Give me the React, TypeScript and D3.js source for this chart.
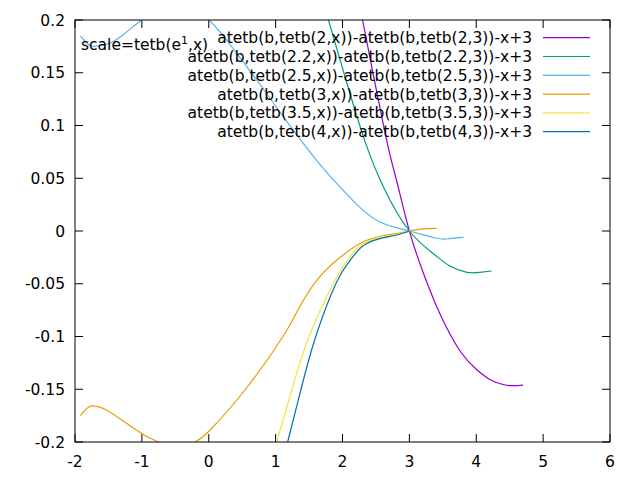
import React from 'react';
import * as d3 from 'd3';

const xTicks = [-2, -1, 0, 1, 2, 3, 4, 5, 6];
const yTicks = [-0.2, -0.15, -0.1, -0.05, 0, 0.05, 0.1, 0.15, 0.2];
const yTickLabels = ['-0.2', '-0.15', '-0.1', '-0.05', '0', '0.05', '0.1', '0.15', '0.2'];

const seriesLabels = [
  'atetb(b,tetb(2,x))-atetb(b,tetb(2,3))-x+3',
  'atetb(b,tetb(2.2,x))-atetb(b,tetb(2.2,3))-x+3',
  'atetb(b,tetb(2.5,x))-atetb(b,tetb(2.5,3))-x+3',
  'atetb(b,tetb(3,x))-atetb(b,tetb(3,3))-x+3',
  'atetb(b,tetb(3.5,x))-atetb(b,tetb(3.5,3))-x+3',
  'atetb(b,tetb(4,x))-atetb(b,tetb(4,3))-x+3',
];
const seriesColors = ['#9400d3', '#009e73', '#56b4e9', '#e69f00', '#f0e442', '#0072b2'];

const base2: [number, number][] = [
  [2.2, 0.232], [2.3, 0.2], [2.63, 0.095], [2.8, 0.05], [3.0, 0], [3.21, -0.04],
  [3.46, -0.079], [3.76, -0.114], [4.0, -0.131], [4.21, -0.141],
  [4.4, -0.1455], [4.55, -0.1466], [4.7, -0.146],
];
const base22: [number, number][] = [
  [1.7, 0.22], [1.79, 0.2], [2.06, 0.1415], [2.32, 0.088], [2.61, 0.042],
  [3.0, 0], [3.36, -0.0215], [3.6, -0.033], [3.86, -0.0392],
  [4.05, -0.0392], [4.23, -0.0379],
];
const base25: [number, number][] = [
  [-1.92, 0.185], [-1.78, 0.176], [-1.65, 0.1755], [-1.48, 0.178], [-1.28, 0.186],
  [-1.0, 0.2], [-0.5, 0.214], [0.0, 0.2], [0.4, 0.17], [0.8, 0.136], [1.2, 0.101],
  [1.6, 0.068], [1.9, 0.046], [2.2, 0.026], [2.56, 0.0085], [3.0, 0], [3.41, -0.0069],
  [3.6, -0.0072], [3.81, -0.006],
];
const base3: [number, number][] = [
  [-1.92, -0.175], [-1.8, -0.167], [-1.7, -0.1659], [-1.55, -0.169], [-1.23, -0.1823],
  [-0.95, -0.194], [-0.75, -0.2], [-0.5, -0.205], [-0.21, -0.2], [0.02, -0.1886],
  [0.55, -0.15], [1.11, -0.1], [1.35, -0.073], [1.6, -0.048], [1.85, -0.031],
  [2.11, -0.018], [2.35, -0.009], [2.6, -0.0045], [2.8, -0.0025], [3.0, 0],
  [3.2, 0.002], [3.41, 0.0025],
];
const base35: [number, number][] = [
  [0.98, -0.21], [1.016, -0.2], [1.245, -0.15], [1.5, -0.1], [1.86, -0.05],
  [2.05, -0.03], [2.25, -0.0145], [2.5, -0.0072], [2.75, -0.004], [3.0, 0],
];
const base4: [number, number][] = [
  [1.15, -0.21], [1.18, -0.2], [1.38, -0.15], [1.6, -0.1], [1.9, -0.05],
  [2.1, -0.029], [2.3, -0.0145], [2.56, -0.0072], [2.8, -0.004], [3.0, 0],
];
const seriesData = [base2, base22, base25, base3, base35, base4];

const W = 640;
const H = 480;
const L = 75, R = 610, T = 20, B = 442;
const FONT = 'DejaVu Sans, sans-serif';
const FS = 15.5;

export default function App() {
  const x = d3.scaleLinear().domain([-2, 6]).range([L, R]);
  const y = d3.scaleLinear().domain([-0.2, 0.2]).range([B, T]);
  const line = d3
    .line<[number, number]>()
    .x((d) => x(d[0]))
    .y((d) => y(d[1]))
    .curve(d3.curveNatural);
  const tl = 8;
  return (
    <svg
      width={W}
      height={H}
      style={{ position: 'absolute', left: 0, top: 0, background: '#fff' }}
      fontFamily={FONT}
      fontSize={FS}
    >
      <rect x={0} y={0} width={W} height={H} fill="#fff" />
      <defs>
        <clipPath id="plotclip">
          <rect x={L} y={T} width={R - L} height={B - T} />
        </clipPath>
      </defs>
      {xTicks.map((t) => (
        <g key={'xt' + t}>
          <line x1={x(t)} x2={x(t)} y1={B} y2={B - tl} stroke="#000" />
          <line x1={x(t)} x2={x(t)} y1={T} y2={T + tl} stroke="#000" />
          <text x={x(t)} y={467} textAnchor="middle">{t}</text>
        </g>
      ))}
      {yTicks.map((t, i) => (
        <g key={'yt' + i}>
          <line x1={L} x2={L + tl} y1={y(t)} y2={y(t)} stroke="#000" />
          <line x1={R} x2={R - tl} y1={y(t)} y2={y(t)} stroke="#000" />
          <text x={65} y={y(t)} dy="0.36em" textAnchor="end">{yTickLabels[i]}</text>
        </g>
      ))}
      <g clipPath="url(#plotclip)">
        {seriesData.map((d, i) => (
          <path key={'s' + i} d={line(d) || ''} fill="none" stroke={seriesColors[i]} strokeWidth={1.2} />
        ))}
      </g>
      <rect x={L} y={T} width={R - L} height={B - T} fill="none" stroke="#000" strokeWidth={1} />
      <text x={81} y={50}>
        scale=tetb(e
        <tspan fontSize={FS * 0.7} dy={-6}>1</tspan>
        <tspan dy={6}>,x)</tspan>
      </text>
      {seriesLabels.map((s, i) => {
        const ly = 37.7 + i * 18.8;
        return (
          <g key={'lg' + i}>
            <text x={532} y={ly} dy="0.36em" textAnchor="end">{s}</text>
            <line x1={543} x2={590} y1={ly} y2={ly} stroke={seriesColors[i]} strokeWidth={1.2} />
          </g>
        );
      })}
    </svg>
  );
}
